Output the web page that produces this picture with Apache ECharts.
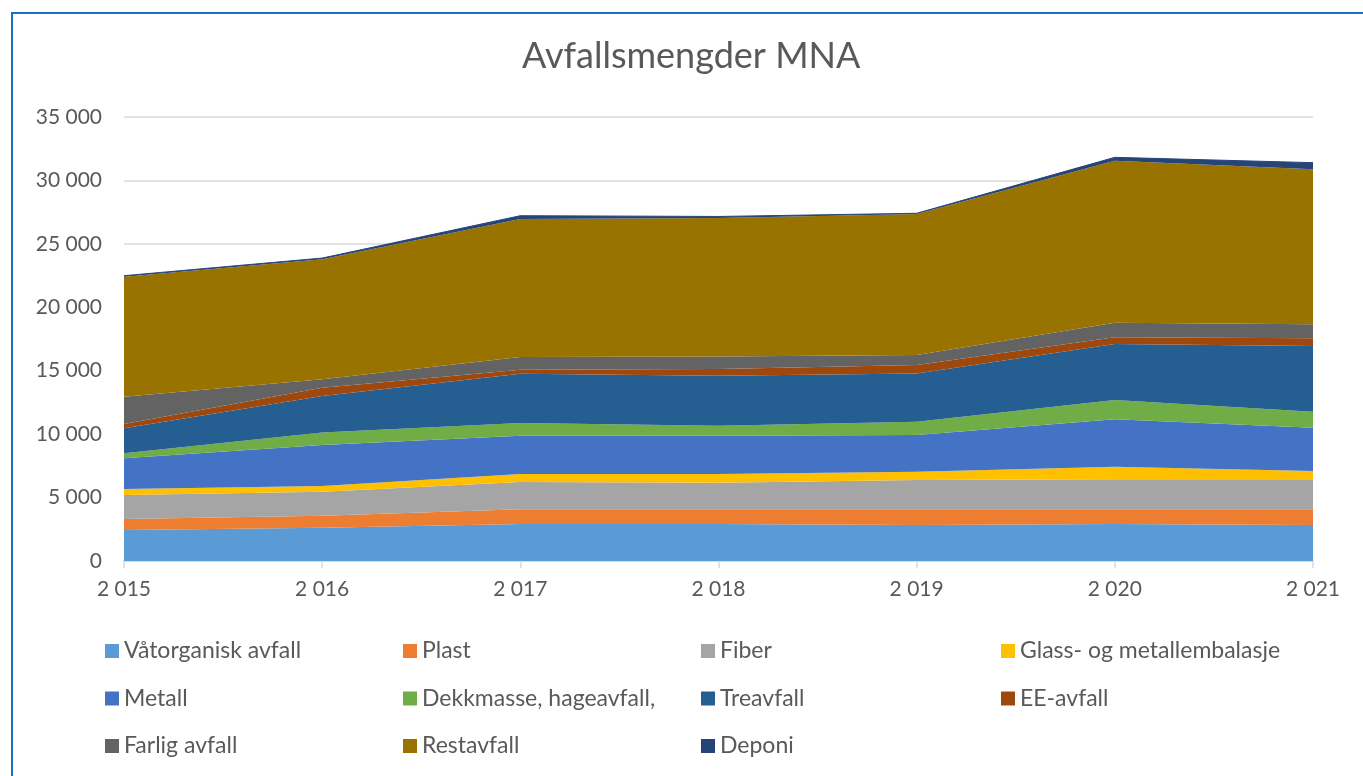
<!DOCTYPE html>
<html><head><meta charset="utf-8">
<script src="https://cdn.jsdelivr.net/npm/echarts@6/dist/echarts.min.js"></script>
<style>
html,body{margin:0;padding:0;background:#fff;}
#frame{position:absolute;left:11px;top:12px;width:1360px;height:780px;border:2px solid #1E6FC0;box-sizing:border-box;}
#chart{position:absolute;left:0;top:0;width:1363px;height:776px;}
</style></head>
<body>
<div id="frame"></div>
<div id="chart"></div>
<script>
const years = ["2 015","2 016","2 017","2 018","2 019","2 020","2 021"];
const vatorganisk = [2440, 2630, 2920, 2920, 2840, 2920, 2840];
const plast       = [870, 940, 1150, 1150, 1230, 1150, 1230];
const fiber       = [1890, 1890, 2160, 2100, 2320, 2370, 2370];
const glass       = [480, 450, 630, 690, 650, 990, 650];
const metall      = [2410, 3230, 3010, 3010, 2890, 3740, 3420];
const dekkmasse   = [400, 980, 1000, 790, 1050, 1520, 1260];
const treavfall   = [1970, 2880, 3890, 3940, 3810, 4410, 5180];
const eeavfall    = [340, 660, 320, 530, 660, 530, 600];
const farlig      = [2150, 660, 1000, 1000, 790, 1160, 1110];
const restavfall  = [9460, 9460, 10870, 10900, 11110, 12770, 12220];
const deponi      = [80, 100, 270, 130, 60, 260, 520];
const yTicks = [0, 5000, 10000, 15000, 20000, 25000, 30000, 35000];

const seriesDefs = [
  ["Våtorganisk avfall", vatorganisk, "#5B9BD5"],
  ["Plast", plast, "#ED7D31"],
  ["Fiber", fiber, "#A5A5A5"],
  ["Glass- og metallembalasje", glass, "#FFC000"],
  ["Metall", metall, "#4472C4"],
  ["Dekkmasse, hageavfall,", dekkmasse, "#70AD47"],
  ["Treavfall", treavfall, "#255E91"],
  ["EE-avfall", eeavfall, "#9E480E"],
  ["Farlig avfall", farlig, "#636363"],
  ["Restavfall", restavfall, "#997300"],
  ["Deponi", deponi, "#264478"]
];

const fmt = v => String(v).replace(/\B(?=(\d{3})+(?!\d))/g, " ");
const font = "Lato, 'Open Sans', sans-serif";
const txt = "#595959";

function legendCol(names, left) {
  return {
    orient: "vertical", left: left, top: 639, padding: 0,
    itemWidth: 14, itemHeight: 14, itemGap: 23.5,
    icon: "rect",
    data: names,
    textStyle: {color: txt, fontSize: 23, fontFamily: font, lineHeight: 24},
    selectedMode: false
  };
}

const chart = echarts.init(document.getElementById("chart"));
chart.setOption({
  animation: false,
  title: {
    text: "Avfallsmengder MNA", left: 522, top: 38, padding: 0,
    textStyle: {color: txt, fontSize: 36, fontWeight: "normal", fontFamily: font}
  },
  legend: [
    legendCol(["Våtorganisk avfall", "Metall", "Farlig avfall"], 105),
    legendCol(["Plast", "Dekkmasse, hageavfall,", "Restavfall"], 403),
    legendCol(["Fiber", "Treavfall", "Deponi"], 701),
    legendCol(["Glass- og metallembalasje", "EE-avfall"], 1001)
  ],
  grid: {left: 124, right: 50, top: 117, bottom: 215, containLabel: false},
  xAxis: {
    type: "category", data: years, boundaryGap: false,
    axisLine: {lineStyle: {color: "#D9D9D9", width: 1.5}},
    axisTick: {show: true, length: 7, lineStyle: {color: "#D9D9D9", width: 1.5}},
    axisLabel: {color: txt, fontSize: 21, fontFamily: font, margin: 18}
  },
  yAxis: {
    type: "value", min: yTicks[0], max: yTicks[yTicks.length - 1], interval: 5000,
    axisLine: {show: false}, axisTick: {show: false},
    splitLine: {lineStyle: {color: "#D9D9D9", width: 1.5}},
    axisLabel: {color: txt, fontSize: 21, fontFamily: font, margin: 22, formatter: fmt}
  },
  series: seriesDefs.map(([name, data, color]) => ({
    name: name, type: "line", stack: "total", data: data,
    symbol: "none", color: color,
    lineStyle: {width: name === "Deponi" ? 1 : 0, color: color},
    areaStyle: {color: color, opacity: 1},
    itemStyle: {color: color}
  }))
});
</script>
</body></html>
